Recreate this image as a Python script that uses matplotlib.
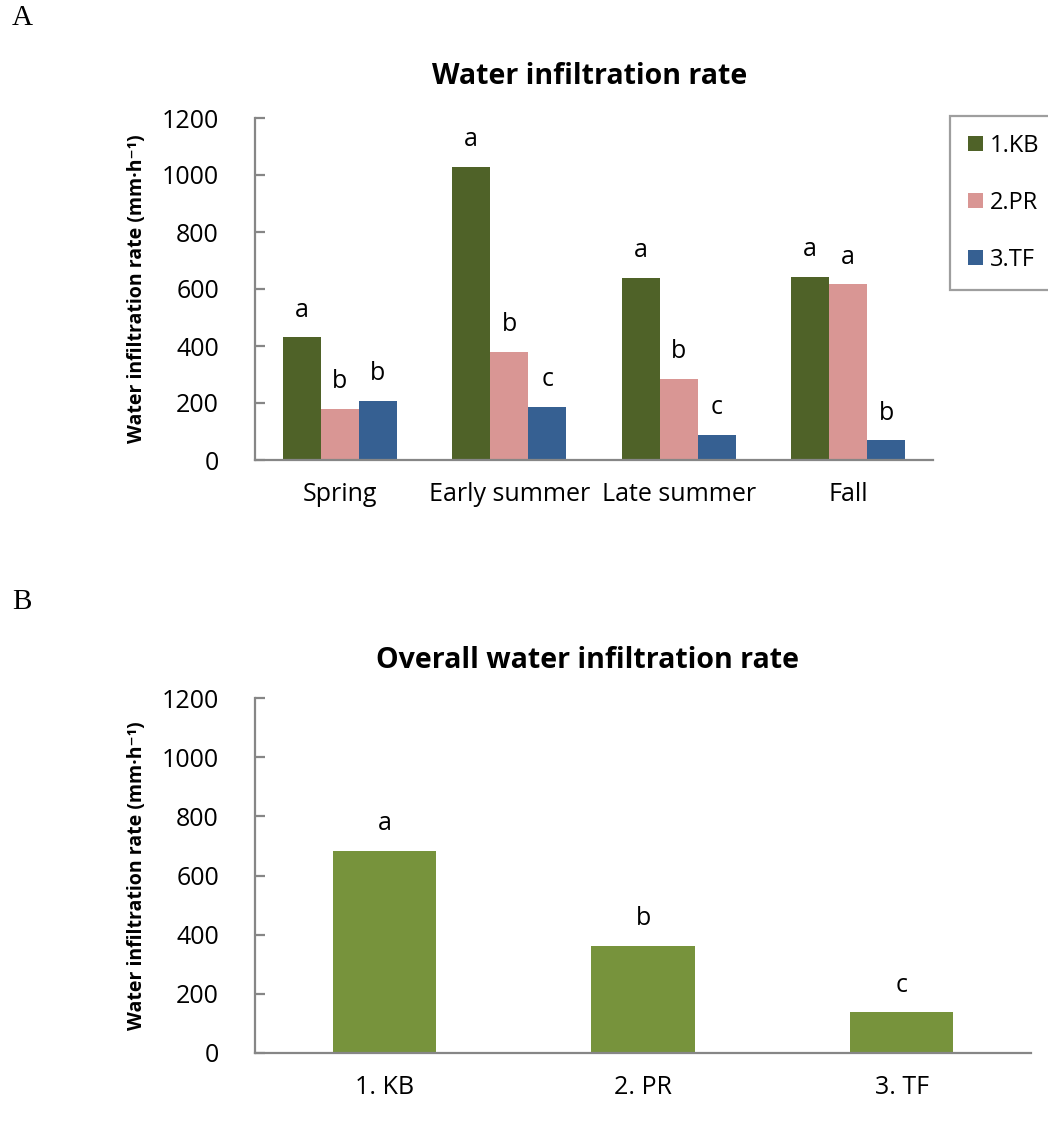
import numpy as np
import matplotlib
matplotlib.use("Agg")
import matplotlib.pyplot as plt

plt.rcParams['font.family'] = ['Open Sans', 'DejaVu Sans']

# Seasonal infiltration rates per treatment (mm/h)
seasons = ["Spring", "Early summer", "Late summer", "Fall"]
treatments = ["1.KB", "2.PR", "3.TF"]
kb_rate = [430, 1029, 640, 643]
pr_rate = [178, 379, 284, 616]
tf_rate = [208, 185, 88, 69]
kb_sig = ["a", "a", "a", "a"]
pr_sig = ["b", "b", "b", "a"]
tf_sig = ["b", "c", "c", "b"]

# Overall means per treatment
overall_labels = ["1. KB", "2. PR", "3. TF"]
overall_rate = [682, 363, 137]
overall_sig = ["a", "b", "c"]

colors = ["#4F6228", "#D99694", "#366092"]
overall_color = "#77933C"
spine_gray = "#868686"
ylabel = "Water infiltration rate (mm·h⁻¹)"

W, H = 1048, 1138
fig = plt.figure(figsize=(W / 100, H / 100), dpi=100)


def style_axis(ax, label_x):
    ax.set_ylim(0, 1200)
    ax.set_yticks(np.arange(0, 1201, 200))
    for s in ["top", "right"]:
        ax.spines[s].set_visible(False)
    for s in ["left", "bottom"]:
        ax.spines[s].set_color(spine_gray)
        ax.spines[s].set_linewidth(1.6)
    ax.tick_params(axis="y", direction="in", length=7, width=1.6,
                   color=spine_gray, labelsize=18, pad=26)
    ax.tick_params(axis="x", length=0, labelsize=18, pad=16)
    ax.set_ylabel(ylabel, fontsize=14, fontweight="bold")
    ax.yaxis.set_label_coords(label_x, 0.5)


def put_letters(ax, xs, ys, letters):
    for x, y, t in zip(xs, ys, letters):
        ax.annotate(t, (x, y), xytext=(0, 15), textcoords="offset points",
                    ha="center", va="baseline", fontsize=18)


# Panel A: grouped bars by season
axA = fig.add_axes([255 / W, 1 - 460 / H, 678 / W, 342 / H])
x = np.arange(len(seasons))
bw = 0.224
series = [kb_rate, pr_rate, tf_rate]
sigs = [kb_sig, pr_sig, tf_sig]
for i, (vals, sig) in enumerate(zip(series, sigs)):
    xs = x + (i - 1) * bw
    axA.bar(xs, vals, width=bw, color=colors[i], label=treatments[i])
    put_letters(axA, xs, vals, sig)
axA.set_xlim(-0.5, len(seasons) - 0.5)
axA.set_xticks(x)
axA.set_xticklabels(seasons)
style_axis(axA, (147 - 255) / 678)

leg = fig.legend(loc="upper left", bbox_to_anchor=(950 / W, 1 - 116 / H),
                 fontsize=17, frameon=True, fancybox=False,
                 handlelength=0.65, handleheight=0.65, handletextpad=0.3,
                 labelspacing=1.4, borderpad=0.75, borderaxespad=0)
leg.get_frame().set_edgecolor(spine_gray)
leg.get_frame().set_linewidth(1.6)
fig.text(590 / W, 1 - 77 / H, "Water infiltration rate", ha="center",
         va="center", fontsize=20.5, fontweight="bold")

# Panel B: overall mean per treatment
axB = fig.add_axes([255 / W, 1 - 1053 / H, 776 / W, 355 / H])
xb = np.arange(len(overall_labels))
axB.bar(xb, overall_rate, width=0.40, color=overall_color)
put_letters(axB, xb, overall_rate, overall_sig)
axB.set_xlim(-0.5, len(overall_labels) - 0.5)
axB.set_xticks(xb)
axB.set_xticklabels(overall_labels)
style_axis(axB, (147 - 255) / 776)
fig.text(587 / W, 1 - 661 / H, "Overall water infiltration rate",
         ha="center", va="center", fontsize=20.5, fontweight="bold")

# Panel letters
for lab, yy in [("A", 18), ("B", 602)]:
    fig.text(12 / W, 1 - yy / H, lab, ha="left", va="center",
             fontsize=21, family="Liberation Serif")

fig.savefig("out.png", dpi=100)
